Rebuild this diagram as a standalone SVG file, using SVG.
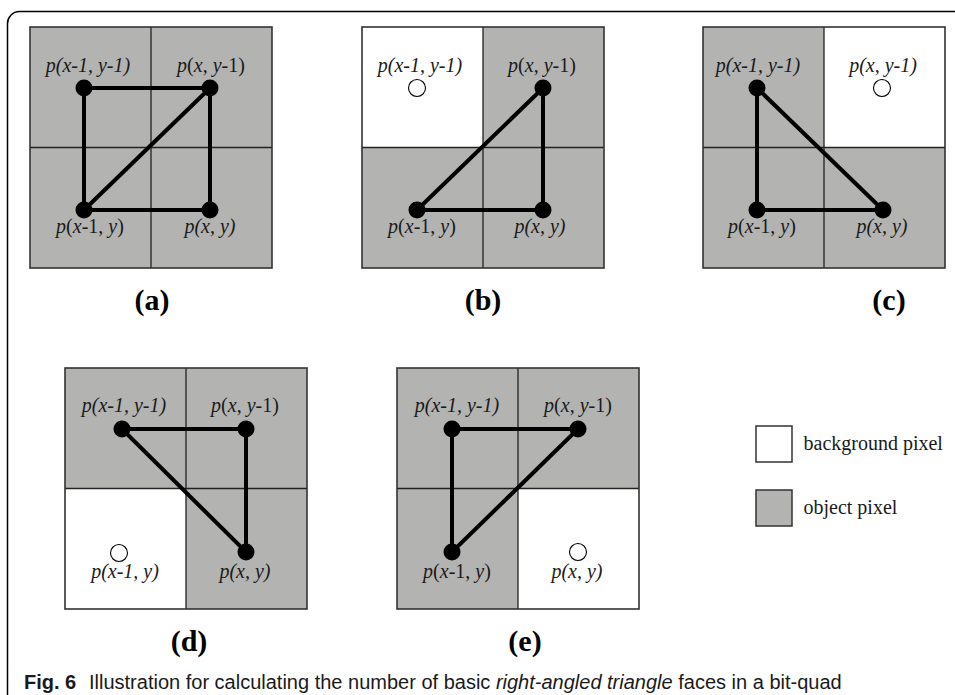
<svg xmlns="http://www.w3.org/2000/svg" width="955" height="695" viewBox="0 0 955 695">
<style>
.bg{fill:#ffffff}
.cell-obj{fill:#b3b3b2;stroke:none}
.cell-bg{fill:#ffffff;stroke:none}
.grid{fill:none;stroke:#222;stroke-width:1.3}
.outer{fill:none;stroke:#333;stroke-width:1.6}
.edge{stroke:#000;stroke-width:4;fill:none;stroke-linecap:round}
.dot{fill:#000}
.hole{fill:#fff;stroke:#000;stroke-width:1.1}
.lbl{font-family:"Liberation Serif","Times New Roman",serif;font-size:20px;fill:#1a1a1a;text-anchor:middle}
.i{font-style:italic}
.sub{font-family:"Liberation Serif","Times New Roman",serif;font-size:30px;font-weight:bold;fill:#000;text-anchor:middle}
.leg{font-family:"Liberation Serif","Times New Roman",serif;font-size:20px;fill:#1a1a1a}
.cap{font-family:"Liberation Sans",Arial,sans-serif;font-size:20px;fill:#1a1a1a}
</style>
<rect class="bg" x="0" y="0" width="955" height="695"/>
<path d="M7.5,695 V24 A12,12 0 0 1 19.5,11.5 H955" fill="none" stroke="#000" stroke-width="1.5"/>

<!-- Panel (a) -->
<g id="panel-a">
  <rect class="cell-obj" x="30" y="27" width="242" height="241"/>
  <path class="grid" d="M151,27 V268 M30,147.5 H272"/>
  <rect class="outer" x="30" y="27" width="242" height="241"/>
  <g id="connectors-a">
    <path class="edge" d="M84,88 H210 V210 H84 Z M84,210 L210,88"/>
  </g>
  <g id="a-tl"><circle class="dot" cx="84" cy="88" r="8.5"/><text class="lbl i" x="88" y="72">p(x-1, y-1)</text></g>
  <g id="a-tr"><circle class="dot" cx="210" cy="88" r="8.5"/><text class="lbl" x="211" y="72"><tspan class="i">p</tspan>(<tspan class="i">x</tspan>, <tspan class="i">y</tspan>-1)</text></g>
  <g id="a-bl"><circle class="dot" cx="84" cy="210" r="8.5"/><text class="lbl" x="90" y="233"><tspan class="i">p</tspan>(<tspan class="i">x</tspan>-1, <tspan class="i">y</tspan>)</text></g>
  <g id="a-br"><circle class="dot" cx="210" cy="210" r="8.5"/><text class="lbl i" x="210" y="233">p(x, y)</text></g>
  <text class="sub" x="152" y="310">(a)</text>
</g>

<!-- Panel (b) -->
<g id="panel-b">
  <rect class="cell-obj" x="362" y="27" width="242" height="241"/>
  <rect class="cell-bg" x="362" y="27" width="121" height="120.5"/>
  <path class="grid" d="M483,27 V268 M362,147.5 H604"/>
  <rect class="outer" x="362" y="27" width="242" height="241"/>
  <g id="connectors-b">
    <path class="edge" d="M417,210 L543,88 V210 Z"/>
  </g>
  <g id="b-tl"><circle class="hole" cx="417" cy="88" r="8.5"/><text class="lbl i" x="420" y="72">p(x-1, y-1)</text></g>
  <g id="b-tr"><circle class="dot" cx="543" cy="88" r="8.5"/><text class="lbl" x="542" y="72"><tspan class="i">p</tspan>(<tspan class="i">x</tspan>, <tspan class="i">y</tspan>-1)</text></g>
  <g id="b-bl"><circle class="dot" cx="417" cy="210" r="8.5"/><text class="lbl" x="422" y="233"><tspan class="i">p</tspan>(<tspan class="i">x</tspan>-1, <tspan class="i">y</tspan>)</text></g>
  <g id="b-br"><circle class="dot" cx="543" cy="210" r="8.5"/><text class="lbl i" x="540" y="233">p(x, y)</text></g>
  <text class="sub" x="483" y="310">(b)</text>
</g>

<!-- Panel (c) -->
<g id="panel-c">
  <rect class="cell-obj" x="703" y="27" width="242" height="241"/>
  <rect class="cell-bg" x="824" y="27" width="121" height="120.5"/>
  <path class="grid" d="M824,27 V268 M703,147.5 H945"/>
  <rect class="outer" x="703" y="27" width="242" height="241"/>
  <g id="connectors-c">
    <path class="edge" d="M757,88 V210 H883 Z"/>
  </g>
  <g id="c-tl"><circle class="dot" cx="757" cy="88" r="8.5"/><text class="lbl i" x="758" y="72">p(x-1, y-1)</text></g>
  <g id="c-tr"><circle class="hole" cx="882" cy="88" r="8.5"/><text class="lbl i" x="883" y="72">p(x, y-1)</text></g>
  <g id="c-bl"><circle class="dot" cx="757" cy="210" r="8.5"/><text class="lbl" x="762" y="233"><tspan class="i">p</tspan>(<tspan class="i">x</tspan>-1, <tspan class="i">y</tspan>)</text></g>
  <g id="c-br"><circle class="dot" cx="883" cy="210" r="8.5"/><text class="lbl i" x="882" y="233">p(x, y)</text></g>
  <text class="sub" x="889" y="310">(c)</text>
</g>

<!-- Panel (d) -->
<g id="panel-d">
  <rect class="cell-obj" x="65" y="368" width="242" height="241"/>
  <rect class="cell-bg" x="65" y="488.5" width="121" height="120.5"/>
  <path class="grid" d="M186,368 V609 M65,488.5 H307"/>
  <rect class="outer" x="65" y="368" width="242" height="241"/>
  <g id="connectors-d">
    <path class="edge" d="M122,429 H246 V552 Z"/>
  </g>
  <g id="d-tl"><circle class="dot" cx="122" cy="429" r="8.5"/><text class="lbl i" x="124" y="412">p(x-1, y-1)</text></g>
  <g id="d-tr"><circle class="dot" cx="246" cy="429" r="8.5"/><text class="lbl" x="245" y="412"><tspan class="i">p</tspan>(<tspan class="i">x</tspan>, <tspan class="i">y</tspan>-1)</text></g>
  <g id="d-bl"><circle class="hole" cx="119" cy="553" r="8.5"/><text class="lbl i" x="125" y="578">p(x-1, y)</text></g>
  <g id="d-br"><circle class="dot" cx="246" cy="552" r="8.5"/><text class="lbl i" x="245" y="578">p(x, y)</text></g>
  <text class="sub" x="189" y="651">(d)</text>
</g>

<!-- Panel (e) -->
<g id="panel-e">
  <rect class="cell-obj" x="397" y="368" width="242" height="241"/>
  <rect class="cell-bg" x="518" y="488.5" width="121" height="120.5"/>
  <path class="grid" d="M518,368 V609 M397,488.5 H639"/>
  <rect class="outer" x="397" y="368" width="242" height="241"/>
  <g id="connectors-e">
    <path class="edge" d="M452,552 V429 H578 Z"/>
  </g>
  <g id="e-tl"><circle class="dot" cx="452" cy="429" r="8.5"/><text class="lbl i" x="457" y="412">p(x-1, y-1)</text></g>
  <g id="e-tr"><circle class="dot" cx="578" cy="429" r="8.5"/><text class="lbl" x="578" y="412"><tspan class="i">p</tspan>(<tspan class="i">x</tspan>, <tspan class="i">y</tspan>-1)</text></g>
  <g id="e-bl"><circle class="dot" cx="452" cy="552" r="8.5"/><text class="lbl" x="457" y="578"><tspan class="i">p</tspan>(<tspan class="i">x</tspan>-1, <tspan class="i">y</tspan>)</text></g>
  <g id="e-br"><circle class="hole" cx="578" cy="552" r="8.5"/><text class="lbl i" x="577" y="578">p(x, y)</text></g>
  <text class="sub" x="525" y="651">(e)</text>
</g>

<!-- Legend -->
<g id="legend-bg">
  <rect x="756" y="426" width="36" height="36" fill="#fff" stroke="#333" stroke-width="1.5"/>
  <text class="leg" x="803.5" y="450">background pixel</text>
</g>
<g id="legend-obj">
  <rect x="756" y="490" width="36" height="36" fill="#b3b3b2" stroke="#333" stroke-width="1.5"/>
  <text class="leg" x="803.5" y="514">object pixel</text>
</g>

<!-- Caption -->
<text class="cap" x="24" y="689"><tspan font-weight="bold">Fig. 6</tspan><tspan x="89">Illustration for calculating the number of basic </tspan><tspan font-style="italic">right-angled triangle</tspan> faces in a bit-quad</text>
</svg>
